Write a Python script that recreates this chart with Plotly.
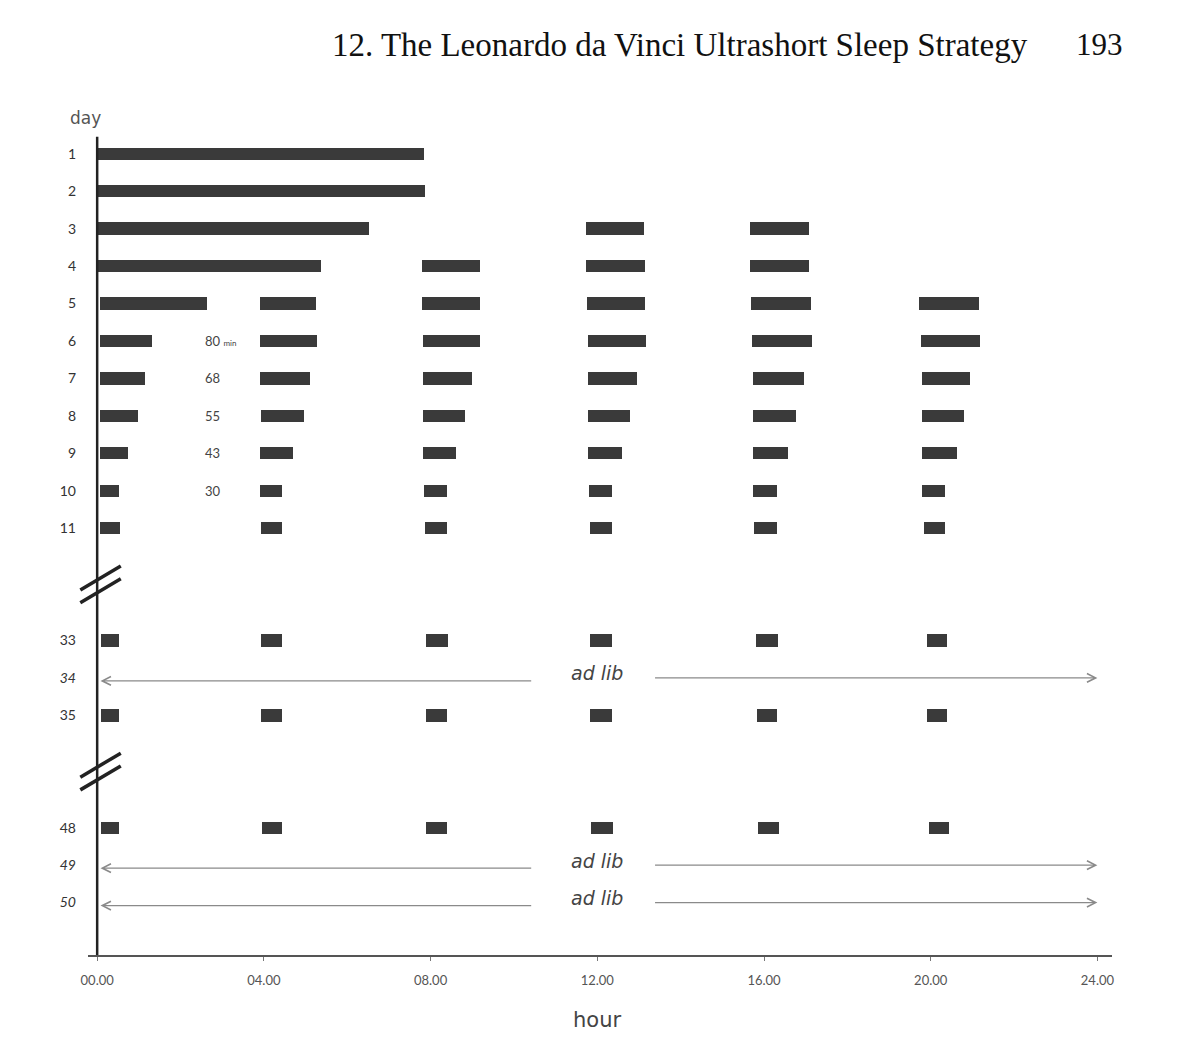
import plotly.graph_objects as go

# days shown on the chart (rows 12-32 and 36-47 are cut out by the axis breaks)
days = [1, 2, 3, 4, 5, 6, 7, 8, 9, 10, 11, 33, 34, 35, 48, 49, 50]
day_labels = ['1', '2', '3', '4', '5', '6', '7', '8', '9', '10', '11',
              '33', '<i>34</i>', '35', '48', '<i>49</i>', '<i>50</i>']

# sleep episodes (hour of day)
sleep_day = [1, 2,
             3, 3, 3,
             4, 4, 4, 4,
             5, 5, 5, 5, 5, 5,
             6, 6, 6, 6, 6, 6,
             7, 7, 7, 7, 7, 7,
             8, 8, 8, 8, 8, 8,
             9, 9, 9, 9, 9, 9,
             10, 10, 10, 10, 10, 10,
             11, 11, 11, 11, 11, 11,
             33, 33, 33, 33, 33, 33,
             35, 35, 35, 35, 35, 35,
             48, 48, 48, 48, 48, 48]
sleep_start = [0.0, 0.0,
               0.0, 11.72, 15.66,
               0.0, 7.79, 11.72, 15.66,
               0.07, 3.91, 7.79, 11.75, 15.68, 19.73,
               0.07, 3.91, 7.82, 11.77, 15.70, 19.76,
               0.07, 3.91, 7.82, 11.77, 15.73, 19.78,
               0.07, 3.93, 7.82, 11.77, 15.73, 19.78,
               0.07, 3.91, 7.82, 11.77, 15.73, 19.78,
               0.07, 3.91, 7.84, 11.80, 15.73, 19.78,
               0.07, 3.93, 7.86, 11.82, 15.75, 19.83,
               0.10, 3.93, 7.89, 11.82, 15.80, 19.90,
               0.10, 3.93, 7.89, 11.82, 15.82, 19.90,
               0.10, 3.96, 7.89, 11.84, 15.85, 19.97]
sleep_end = [7.84, 7.87,
             6.52, 13.11, 17.09,
             5.37, 9.18, 13.14, 17.09,
             2.64, 5.25, 9.18, 13.14, 17.12, 21.17,
             1.32, 5.27, 9.18, 13.16, 17.14, 21.19,
             1.15, 5.11, 8.99, 12.95, 16.95, 20.95,
             0.98, 4.96, 8.82, 12.78, 16.76, 20.79,
             0.74, 4.70, 8.61, 12.59, 16.57, 20.62,
             0.53, 4.44, 8.39, 12.35, 16.30, 20.35,
             0.55, 4.44, 8.39, 12.35, 16.30, 20.35,
             0.53, 4.44, 8.42, 12.35, 16.33, 20.40,
             0.53, 4.44, 8.39, 12.35, 16.30, 20.40,
             0.53, 4.44, 8.39, 12.37, 16.35, 20.45]

# days with unrestricted ("ad lib") sleep
adlib_days = [34, 49, 50]

# nap length notes (minutes)
nap_note_days = [6, 7, 8, 9, 10]
nap_minutes = [80, 68, 55, 43, 30]

hour_ticks = [0, 4, 8, 12, 16, 20, 24]
hour_labels = ['00.00', '04.00', '08.00', '12.00', '16.00', '20.00', '24.00']

# row position of each day on the (broken) vertical axis
rows = list(range(11)) + [13, 14, 15] + [18, 19, 20]
row_of = dict(zip(days, rows))

ink = '#3a3a3a'
hand = 'DejaVu Sans'

fig = go.Figure()
fig.add_trace(go.Bar(
    orientation='h',
    y=[row_of[d] for d in sleep_day],
    base=sleep_start,
    x=[e - s for s, e in zip(sleep_start, sleep_end)],
    width=0.33,
    marker=dict(color=ink, line=dict(width=0)),
    showlegend=False,
    hoverinfo='skip',
))

shapes = []
# vertical day axis
shapes.append(dict(type='line', xref='x', yref='y', x0=0, x1=0, y0=-0.45, y1=21.45,
                   line=dict(color='#222', width=2.5)))
# axis breaks (double slash)
for c in [11.5, 16.5]:
    for d in [-0.17, 0.17]:
        shapes.append(dict(type='line', xref='paper', yref='y',
                           x0=-0.0075, y0=c + d + 0.32, x1=0.032, y1=c + d - 0.32,
                           line=dict(color='#222', width=3.5)))

annotations = []
for d in adlib_days:
    r = row_of[d]
    annotations.append(dict(x=0.08, y=r + 0.08, ax=10.45, ay=r + 0.08, axref='x', ayref='y',
                            xref='x', yref='y', text='', showarrow=True, arrowhead=5,
                            arrowsize=1.3, arrowwidth=1.3, arrowcolor='#8a8a8a'))
    annotations.append(dict(x=24.0, y=r + 0.0, ax=13.35, ay=r + 0.0, axref='x', ayref='y',
                            xref='x', yref='y', text='', showarrow=True, arrowhead=5,
                            arrowsize=1.3, arrowwidth=1.3, arrowcolor='#8a8a8a'))
    annotations.append(dict(x=12.0, y=r - 0.12, xref='x', yref='y', text='<i>ad lib</i>',
                            showarrow=False, font=dict(family=hand, size=19, color='#444')))

for d, m in zip(nap_note_days, nap_minutes):
    txt = str(m)
    if m == nap_minutes[0]:
        txt = str(m) + " <span style='font-size:8px'>min</span>"
    annotations.append(dict(x=2.55, y=row_of[d], xref='x', yref='y', text=txt,
                            xanchor='left', showarrow=False,
                            font=dict(size=13, color='#444')))

# page header and axis titles
annotations.append(dict(x=(330 - 88) / 1024, y=1.1098, xref='paper', yref='paper',
                        xanchor='left', yanchor='middle',
                        text='12. The Leonardo da Vinci Ultrashort Sleep Strategy',
                        showarrow=False,
                        font=dict(family='Liberation Serif', size=33, color='#111')))
annotations.append(dict(x=(1125 - 88) / 1024, y=1.1098, xref='paper', yref='paper',
                        xanchor='right', yanchor='middle',
                        text='193', showarrow=False,
                        font=dict(family='Liberation Serif', size=31, color='#111')))
annotations.append(dict(x=(85 - 88) / 1024, y=1.0207, xref='paper', yref='paper',
                        xanchor='center', yanchor='middle',
                        text='day', showarrow=False, font=dict(family=hand, size=17, color='#555')))
annotations.append(dict(x=12.0, y=-0.079, xref='x', yref='paper', xanchor='center', yanchor='middle',
                        text='hour', showarrow=False, font=dict(family=hand, size=21, color='#444')))

# page body has an 8px margin, so the figure is drawn 8px smaller and shifted
fig.update_layout(
    width=1190, height=1032,
    margin=dict(l=80, r=86, t=127, b=85),
    paper_bgcolor='white', plot_bgcolor='white',
    font=dict(family='Lato', color='#333'),
    shapes=shapes,
    annotations=annotations,
    bargap=0,
)
fig.update_xaxes(range=[-0.22, 24.35], tickvals=hour_ticks, ticktext=hour_labels,
                 showgrid=False, zeroline=False, showline=True, linecolor='#555', linewidth=2,
                 ticks='outside', ticklen=4, tickcolor='#777', ticklabelstandoff=8,
                 tickfont=dict(size=13, color='#555'))
fig.update_yaxes(range=[21.4, -0.5], tickvals=rows, ticktext=day_labels,
                 showgrid=False, zeroline=False, showline=False, ticks='',
                 ticklabelstandoff=11, tickfont=dict(size=14, color='#333'))

fig.write_html('out.html')
